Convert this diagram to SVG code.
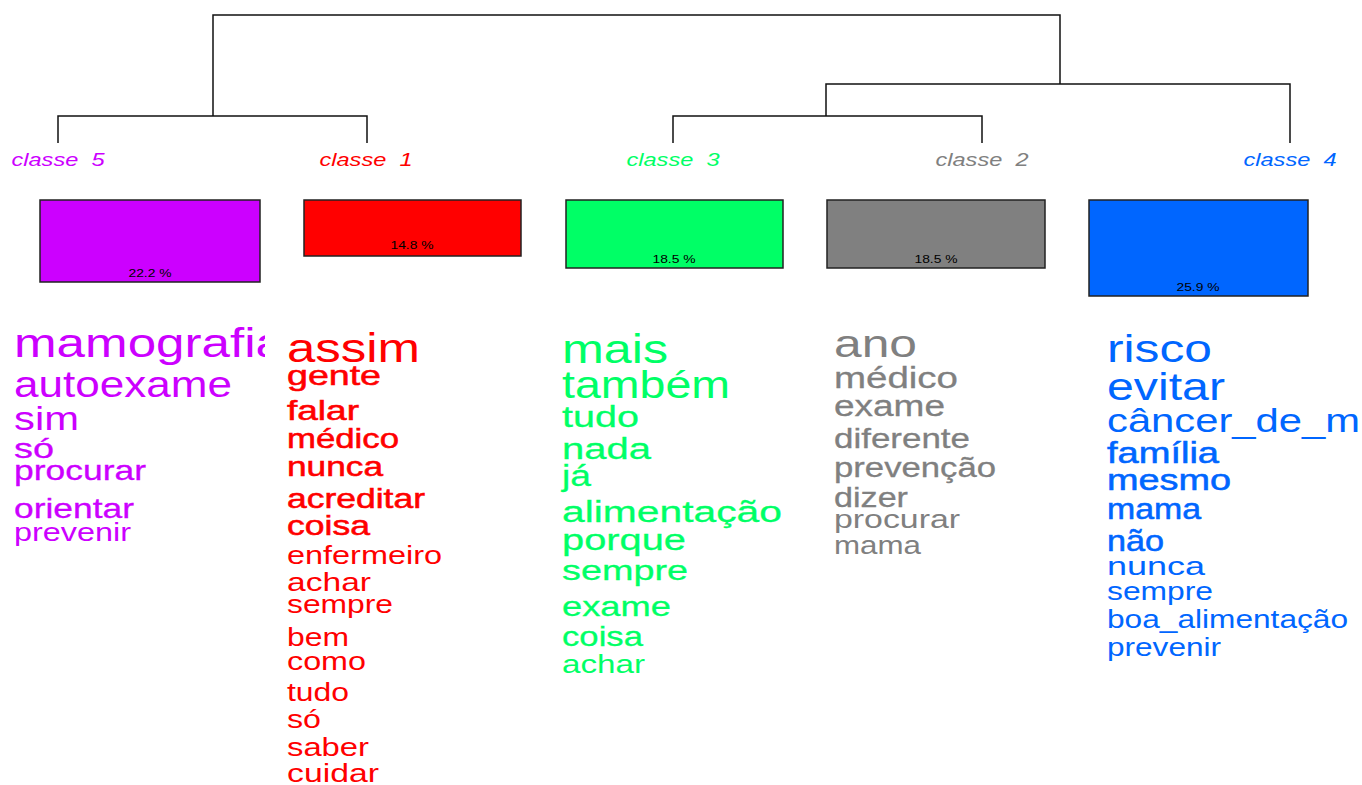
<svg xmlns="http://www.w3.org/2000/svg" width="1362" height="785" viewBox="0 0 1362 785">
<style>
text{font-family:"Liberation Sans",Arial,sans-serif}
.lab{font-style:italic;font-size:19px;text-anchor:middle;white-space:pre}
.pct{font-size:11px;text-anchor:middle;fill:#000}
.box{stroke:#222;stroke-width:1.5}
.c5{fill:#CC00FF;stroke:#CC00FF}.c1{fill:#FF0000;stroke:#FF0000}.c3{fill:#00FF66;stroke:#00FF66}.c2{fill:#808080;stroke:#808080}.c4{fill:#0066FF;stroke:#0066FF}
text.c5,text.c1,text.c3,text.c2,text.c4{stroke-width:0}
text.b{stroke-width:0.55}
text.m{stroke-width:0.3}
.edge{fill:none;stroke:#111;stroke-width:1.5}
</style>
<defs>
<clipPath id="clip5"><rect x="0" y="300" width="265" height="300"/></clipPath>
<clipPath id="clip4"><rect x="1080" y="300" width="282" height="400"/></clipPath>
</defs>
<rect width="1362" height="785" fill="#fff"/>
<g id="connectors">
<path class="edge" d="M213,116 V15 H1060 V84"/>
<path class="edge" d="M826,116 V84 H1290 V143"/>
<path class="edge" d="M58,143 V116 H367 V143"/>
<path class="edge" d="M673,143 V116 H982 V143"/>
</g>
<g id="classe5">
<text class="lab c5" x="58" y="166" textLength="93" lengthAdjust="spacingAndGlyphs">classe  5</text>
<rect class="box c5" x="40" y="200" width="220" height="82" style="stroke:#222"/>
<text class="pct" x="150" y="277" textLength="43" lengthAdjust="spacingAndGlyphs">22.2 %</text>
<g clip-path="url(#clip5)">
<text class="c5" x="14" y="357" font-size="40" textLength="270" lengthAdjust="spacingAndGlyphs">mamografia</text>
<text class="c5" x="14" y="397" font-size="36" textLength="218" lengthAdjust="spacingAndGlyphs">autoexame</text>
<text class="c5" x="14" y="430" font-size="34" textLength="65" lengthAdjust="spacingAndGlyphs">sim</text>
<text class="c5 m" x="14" y="458" font-size="28" textLength="40" lengthAdjust="spacingAndGlyphs">só</text>
<text class="c5 m" x="14" y="480" font-size="28" textLength="132" lengthAdjust="spacingAndGlyphs">procurar</text>
<text class="c5 m" x="14" y="518" font-size="28" textLength="120" lengthAdjust="spacingAndGlyphs">orientar</text>
<text class="c5" x="14" y="541" font-size="25" textLength="117" lengthAdjust="spacingAndGlyphs">prevenir</text>
</g>
</g>
<g id="classe1">
<text class="lab c1" x="366" y="166" textLength="93" lengthAdjust="spacingAndGlyphs">classe  1</text>
<rect class="box c1" x="304" y="200" width="217" height="56" style="stroke:#222"/>
<text class="pct" x="412" y="249" textLength="43" lengthAdjust="spacingAndGlyphs">14.8 %</text>
<text class="c1" x="287" y="362" font-size="40" textLength="133" lengthAdjust="spacingAndGlyphs">assim</text>
<text class="c1 b" x="287" y="385" font-size="28" textLength="94" lengthAdjust="spacingAndGlyphs">gente</text>
<text class="c1 b" x="287" y="420" font-size="28" textLength="72" lengthAdjust="spacingAndGlyphs">falar</text>
<text class="c1 b" x="287" y="448" font-size="28" textLength="112" lengthAdjust="spacingAndGlyphs">médico</text>
<text class="c1 b" x="287" y="476" font-size="28" textLength="96" lengthAdjust="spacingAndGlyphs">nunca</text>
<text class="c1 b" x="287" y="508" font-size="28" textLength="138" lengthAdjust="spacingAndGlyphs">acreditar</text>
<text class="c1 b" x="287" y="535" font-size="28" textLength="83" lengthAdjust="spacingAndGlyphs">coisa</text>
<text class="c1" x="287" y="564" font-size="26" textLength="155" lengthAdjust="spacingAndGlyphs">enfermeiro</text>
<text class="c1" x="287" y="591" font-size="26" textLength="84" lengthAdjust="spacingAndGlyphs">achar</text>
<text class="c1" x="287" y="613" font-size="26" textLength="106" lengthAdjust="spacingAndGlyphs">sempre</text>
<text class="c1" x="287" y="646" font-size="26" textLength="62" lengthAdjust="spacingAndGlyphs">bem</text>
<text class="c1" x="287" y="670" font-size="26" textLength="79" lengthAdjust="spacingAndGlyphs">como</text>
<text class="c1" x="287" y="701" font-size="26" textLength="62" lengthAdjust="spacingAndGlyphs">tudo</text>
<text class="c1" x="287" y="728" font-size="26" textLength="34" lengthAdjust="spacingAndGlyphs">só</text>
<text class="c1" x="287" y="756" font-size="26" textLength="82" lengthAdjust="spacingAndGlyphs">saber</text>
<text class="c1" x="287" y="782" font-size="26" textLength="92" lengthAdjust="spacingAndGlyphs">cuidar</text>
</g>
<g id="classe3">
<text class="lab c3" x="673" y="166" textLength="93" lengthAdjust="spacingAndGlyphs">classe  3</text>
<rect class="box c3" x="566" y="200" width="217" height="68" style="stroke:#222"/>
<text class="pct" x="674" y="263" textLength="43" lengthAdjust="spacingAndGlyphs">18.5 %</text>
<text class="c3" x="562" y="363" font-size="40" textLength="106" lengthAdjust="spacingAndGlyphs">mais</text>
<text class="c3" x="562" y="398" font-size="38" textLength="168" lengthAdjust="spacingAndGlyphs">também</text>
<text class="c3 m" x="562" y="427" font-size="30" textLength="77" lengthAdjust="spacingAndGlyphs">tudo</text>
<text class="c3 m" x="562" y="459" font-size="30" textLength="89" lengthAdjust="spacingAndGlyphs">nada</text>
<text class="c3 m" x="562" y="486" font-size="30" textLength="29" lengthAdjust="spacingAndGlyphs">já</text>
<text class="c3 m" x="562" y="522" font-size="30" textLength="220" lengthAdjust="spacingAndGlyphs">alimentação</text>
<text class="c3 m" x="562" y="550" font-size="30" textLength="124" lengthAdjust="spacingAndGlyphs">porque</text>
<text class="c3 m" x="562" y="580" font-size="28" textLength="126" lengthAdjust="spacingAndGlyphs">sempre</text>
<text class="c3 m" x="562" y="616" font-size="28" textLength="109" lengthAdjust="spacingAndGlyphs">exame</text>
<text class="c3 m" x="562" y="646" font-size="28" textLength="81" lengthAdjust="spacingAndGlyphs">coisa</text>
<text class="c3" x="562" y="673" font-size="26" textLength="83" lengthAdjust="spacingAndGlyphs">achar</text>
</g>
<g id="classe2">
<text class="lab c2" x="982" y="166" textLength="93" lengthAdjust="spacingAndGlyphs">classe  2</text>
<rect class="box c2" x="827" y="200" width="218" height="68" style="stroke:#222"/>
<text class="pct" x="936" y="263" textLength="43" lengthAdjust="spacingAndGlyphs">18.5 %</text>
<text class="c2" x="834" y="357" font-size="38" textLength="83" lengthAdjust="spacingAndGlyphs">ano</text>
<text class="c2 m" x="834" y="388" font-size="30" textLength="124" lengthAdjust="spacingAndGlyphs">médico</text>
<text class="c2 m" x="834" y="416" font-size="30" textLength="111" lengthAdjust="spacingAndGlyphs">exame</text>
<text class="c2 m" x="834" y="448" font-size="28" textLength="136" lengthAdjust="spacingAndGlyphs">diferente</text>
<text class="c2 m" x="834" y="477" font-size="28" textLength="162" lengthAdjust="spacingAndGlyphs">prevenção</text>
<text class="c2 m" x="834" y="507" font-size="28" textLength="74" lengthAdjust="spacingAndGlyphs">dizer</text>
<text class="c2" x="834" y="528" font-size="26" textLength="126" lengthAdjust="spacingAndGlyphs">procurar</text>
<text class="c2" x="834" y="554" font-size="26" textLength="87" lengthAdjust="spacingAndGlyphs">mama</text>
</g>
<g id="classe4">
<text class="lab c4" x="1290" y="166" textLength="93" lengthAdjust="spacingAndGlyphs">classe  4</text>
<rect class="box c4" x="1089" y="200" width="219" height="96" style="stroke:#222"/>
<text class="pct" x="1198" y="291" textLength="43" lengthAdjust="spacingAndGlyphs">25.9 %</text>
<g clip-path="url(#clip4)">
<text class="c4" x="1107" y="362" font-size="38" textLength="105" lengthAdjust="spacingAndGlyphs">risco</text>
<text class="c4" x="1107" y="400" font-size="38" textLength="118" lengthAdjust="spacingAndGlyphs">evitar</text>
<text class="c4" x="1107" y="432" font-size="34" textLength="253" lengthAdjust="spacingAndGlyphs">câncer_de_m</text>
<text class="c4 b" x="1107" y="463" font-size="30" textLength="112" lengthAdjust="spacingAndGlyphs">família</text>
<text class="c4 b" x="1107" y="490" font-size="30" textLength="124" lengthAdjust="spacingAndGlyphs">mesmo</text>
<text class="c4 b" x="1107" y="519" font-size="30" textLength="94" lengthAdjust="spacingAndGlyphs">mama</text>
<text class="c4 b" x="1107" y="551" font-size="30" textLength="57" lengthAdjust="spacingAndGlyphs">não</text>
<text class="c4" x="1107" y="575" font-size="26" textLength="98" lengthAdjust="spacingAndGlyphs">nunca</text>
<text class="c4" x="1107" y="600" font-size="26" textLength="106" lengthAdjust="spacingAndGlyphs">sempre</text>
<text class="c4" x="1107" y="628" font-size="26" textLength="241" lengthAdjust="spacingAndGlyphs">boa_alimentação</text>
<text class="c4" x="1107" y="656" font-size="26" textLength="114" lengthAdjust="spacingAndGlyphs">prevenir</text>
</g>
</g>
</svg>
